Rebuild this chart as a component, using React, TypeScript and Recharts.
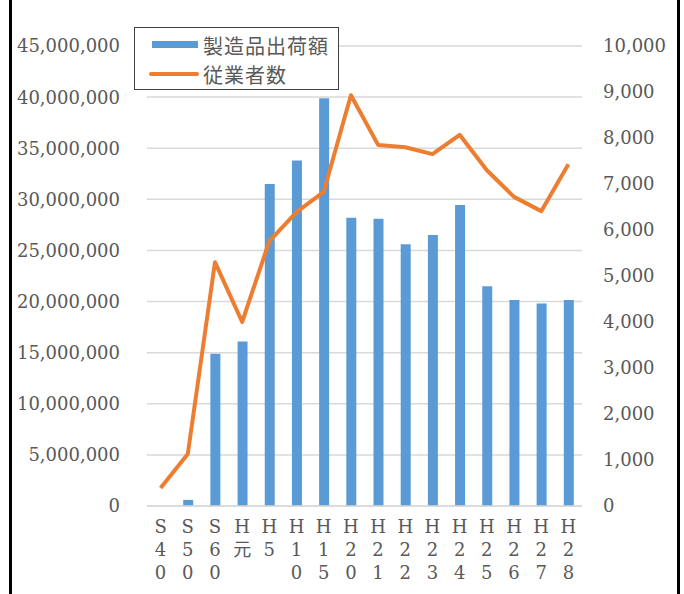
import { ComposedChart, Bar, Line, XAxis, YAxis, CartesianGrid, Legend } from "recharts";

const categories = ["S40", "S50", "S60", "H元", "H5", "H10", "H15", "H20", "H21", "H22", "H23", "H24", "H25", "H26", "H27", "H28"];
const shipments = [0, 600000, 14900000, 16100000, 31500000, 33800000, 39900000, 28200000, 28100000, 25600000, 26500000, 29450000, 21500000, 20150000, 19800000, 20150000];
const employees = [390, 1130, 5300, 4000, 5760, 6390, 6830, 8930, 7850, 7800, 7650, 8070, 7300, 6720, 6410, 7430];
const leftTicks = [0, 5000000, 10000000, 15000000, 20000000, 25000000, 30000000, 35000000, 40000000, 45000000];
const rightTicks = [0, 1000, 2000, 3000, 4000, 5000, 6000, 7000, 8000, 9000, 10000];

const data = categories.map((c, i) => ({ name: c, shipments: shipments[i], employees: employees[i] }));

const SERIF = '"DejaVu Serif", serif';
const GOTHIC = '"Noto Sans CJK JP", "Noto Sans", sans-serif';
const GRAY = "#595959";

const fmt = (v: number) => v.toLocaleString("en-US");

const StackedTick = ({ x, y, payload }: any) => {
  const chars = Array.from(String(payload.value));
  return (
    <text x={x} y={y} textAnchor="middle" fill={GRAY} fontSize={18} fontFamily={`"DejaVu Serif", "Noto Sans CJK JP", serif`}>
      {chars.map((ch, i) => (
        <tspan key={i} x={x} dy={i === 0 ? 27 : 23}>{ch}</tspan>
      ))}
    </text>
  );
};

const LegendBox = () => (
  <div style={{ position: "relative", width: 205, height: 63, border: "1px solid #404040", background: "#fff", boxSizing: "border-box", fontFamily: GOTHIC, fontSize: 20, color: GRAY }}>
    <div style={{ position: "absolute", left: 17, top: 13, width: 46, height: 7, background: "#5B9BD5" }} />
    <div style={{ position: "absolute", left: 68, top: 3, lineHeight: "30px", letterSpacing: 1, whiteSpace: "nowrap" }}>製造品出荷額</div>
    <div style={{ position: "absolute", left: 14, top: 44, width: 50, height: 4, borderRadius: 2, background: "#ED7D31" }} />
    <div style={{ position: "absolute", left: 68, top: 32, lineHeight: "30px", letterSpacing: 1, whiteSpace: "nowrap" }}>従業者数</div>
  </div>
);

export default function App() {
  return (
    <div style={{ position: "absolute", left: 0, top: 0, width: 684, height: 594, background: "#fff", overflow: "hidden" }}>
      <ComposedChart width={684} height={594} data={data} margin={{ top: 46, right: 0, bottom: 0, left: 0 }}>
        <CartesianGrid yAxisId="left" vertical={false} stroke="#D9D9D9" strokeWidth={1.5} />
        <XAxis dataKey="name" interval={0} height={88} tickLine={false} tickSize={0} tickMargin={0} axisLine={{ stroke: "#D9D9D9", strokeWidth: 1.5 }} tick={<StackedTick />} />
        <YAxis yAxisId="left" width={147} domain={[0, 45000000]} ticks={leftTicks} tickFormatter={fmt} axisLine={false} tickLine={false} tickSize={0} tickMargin={27} tick={{ fill: GRAY, fontSize: 18, fontFamily: SERIF }} />
        <YAxis yAxisId="right" orientation="right" width={102} domain={[0, 10000]} ticks={rightTicks} tickFormatter={fmt} axisLine={false} tickLine={false} tickSize={0} tickMargin={21} tick={{ fill: GRAY, fontSize: 18, fontFamily: SERIF, textAnchor: "start" }} />
        <Legend layout="horizontal" align="center" verticalAlign="middle" content={<LegendBox />} wrapperStyle={{ top: 27, left: 134, width: 205, height: 63 }} />
        <Bar yAxisId="left" dataKey="shipments" name="製造品出荷額" fill="#5B9BD5" barSize={10} isAnimationActive={false} />
        <Line yAxisId="right" dataKey="employees" name="従業者数" stroke="#ED7D31" strokeWidth={4} strokeLinejoin="round" dot={false} activeDot={false} isAnimationActive={false} />
      </ComposedChart>
      <div style={{ position: "absolute", left: 9, top: 0, width: 2.5, height: 594, background: "#000" }} />
      <div style={{ position: "absolute", left: 677, top: 0, width: 2.5, height: 594, background: "#000" }} />
    </div>
  );
}
